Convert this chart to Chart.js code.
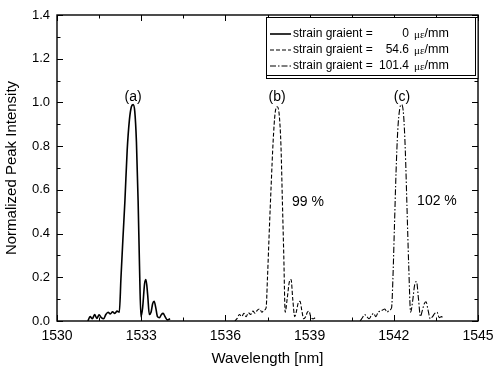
<!DOCTYPE html>
<html>
<head>
<meta charset="utf-8">
<script src="https://cdn.jsdelivr.net/npm/chart.js@4.4.1/dist/chart.umd.min.js"></script>
<style>
  html, body { margin: 0; padding: 0; background: #fff; }
  #wrap { width: 493px; height: 370px; }
</style>
</head>
<body>
<div id="wrap"><canvas id="chart" width="493" height="370"></canvas></div>
<script>
// spectrum (a): strain gradient 0
const wlA = [1531.10, 1531.18, 1531.26, 1531.34, 1531.42, 1531.50, 1531.58, 1531.66, 1531.74, 1531.82,
    1531.90, 1531.98, 1532.06, 1532.14, 1532.22, 1532.28, 1532.35, 1532.42, 1532.50, 1532.58,
    1532.65, 1532.71, 1532.77, 1532.83, 1532.89, 1532.94, 1532.99, 1533.05, 1533.12, 1533.17,
    1533.23, 1533.29, 1533.35, 1533.41, 1533.46, 1533.52, 1533.58, 1533.65, 1533.72, 1533.78,
    1533.85, 1533.93, 1534.03];
const intA = [0.0, 0.02, 0.01, 0.03, 0.012, 0.028, 0.015, 0.01, 0.03, 0.04,
    0.032, 0.042, 0.035, 0.045, 0.04, 0.2, 0.38, 0.55, 0.78, 0.92,
    0.98, 0.99, 0.96, 0.82, 0.55, 0.25, 0.02, 0.06, 0.17, 0.19,
    0.12, 0.03, 0.04, 0.08, 0.09, 0.06, 0.02, 0.015, 0.03, 0.035,
    0.02, 0.005, 0.01];

// spectrum (b): strain gradient 54.6
const wlB = [1536.34, 1536.42, 1536.50, 1536.58, 1536.66, 1536.74, 1536.82, 1536.90, 1536.98, 1537.06,
    1537.14, 1537.22, 1537.30, 1537.38, 1537.45, 1537.50, 1537.56, 1537.63, 1537.70, 1537.77,
    1537.85, 1537.92, 1537.98, 1538.03, 1538.08, 1538.13, 1538.20, 1538.28, 1538.34, 1538.40,
    1538.47, 1538.54, 1538.60, 1538.66, 1538.72, 1538.79, 1538.86, 1538.92, 1538.98, 1539.04,
    1539.12, 1539.20];
const intB = [0.0, 0.012, 0.03, 0.02, 0.035, 0.02, 0.038, 0.03, 0.045, 0.035,
    0.05, 0.055, 0.04, 0.05, 0.06, 0.2, 0.4, 0.62, 0.82, 0.95,
    0.98, 0.94, 0.8, 0.55, 0.3, 0.04, 0.1, 0.18, 0.19, 0.1,
    0.02, 0.05, 0.085, 0.09, 0.05, 0.01, 0.02, 0.04, 0.045, 0.02,
    0.01, 0.015];

// spectrum (c): strain gradient 101.4
const wlC = [1540.80, 1540.88, 1540.96, 1541.04, 1541.12, 1541.20, 1541.28, 1541.36, 1541.44, 1541.52,
    1541.60, 1541.68, 1541.76, 1541.84, 1541.92, 1541.97, 1542.02, 1542.08, 1542.14, 1542.21,
    1542.28, 1542.35, 1542.41, 1542.47, 1542.53, 1542.60, 1542.67, 1542.75, 1542.81, 1542.88,
    1542.95, 1543.02, 1543.09, 1543.15, 1543.22, 1543.30, 1543.38, 1543.46, 1543.54, 1543.62,
    1543.70, 1543.77];
const intC = [0.0, 0.015, 0.03, 0.02, 0.01, 0.025, 0.035, 0.02, 0.04, 0.045,
    0.05, 0.055, 0.04, 0.05, 0.06, 0.2, 0.42, 0.68, 0.87, 0.97,
    0.99, 0.94, 0.78, 0.52, 0.26, 0.04, 0.09, 0.17, 0.18, 0.1,
    0.02, 0.05, 0.08, 0.088, 0.05, 0.01, 0.02, 0.035, 0.04, 0.015,
    0.02, 0.01];

const legendValues = ['0', '54.6', '101.4'];
const noteTexts = ['(a)', '(b)', '(c)', '99 %', '102 %'];
const noteX = [1532.71, 1537.84, 1542.29, 1538.37, 1542.83];
const noteY = [1.025, 1.025, 1.025, 0.545, 0.55];

const dashes = [[], [4, 2], [6, 2, 1.5, 2]];
const widths = [1.6, 1.1, 1.1];

function pts(xs, ys) {
    return xs.map((x, i) => ({ x: x, y: ys[i] }));
}

// frame, inward ticks, legend box and peak notes
const decorPlugin = {
    id: 'decor',
    afterDraw(chart) {
        const ctx = chart.ctx;
        const a = chart.chartArea;
        const xs = chart.scales.x;
        const ys = chart.scales.y;
        ctx.save();
        ctx.strokeStyle = '#000';
        ctx.lineWidth = 1.4;
        ctx.strokeRect(a.left, a.top, a.right - a.left, a.bottom - a.top);

        ctx.lineWidth = 1;
        ctx.beginPath();
        for (let v = 1530; v <= 1545.01; v += 1.5) {
            const px = Math.round(xs.getPixelForValue(v)) + 0.5;
            const len = (Math.abs((v - 1530) % 3) < 0.01) ? 6 : 3.5;
            ctx.moveTo(px, a.bottom); ctx.lineTo(px, a.bottom - len);
            ctx.moveTo(px, a.top); ctx.lineTo(px, a.top + len);
        }
        for (let i = 0; i <= 14; i++) {
            const py = Math.round(ys.getPixelForValue(i / 10)) + 0.5;
            const len = (i % 2 === 0) ? 6 : 3.5;
            ctx.moveTo(a.left, py); ctx.lineTo(a.left + len, py);
            ctx.moveTo(a.right, py); ctx.lineTo(a.right - len, py);
        }
        ctx.stroke();

        // legend
        const bx = a.right - 212, by = a.top + 2, bw = 212, bh = 61;
        ctx.fillStyle = '#fff';
        ctx.fillRect(bx, by, bw, bh);
        ctx.lineWidth = 1;
        ctx.strokeRect(bx + 0.5, by + 0.5, bw - 3, bh - 3);
        ctx.strokeRect(bx + 0.5, by + 0.5, bw - 0.5, bh);
        const rows = [by + 17, by + 33, by + 49];
        chart.data.datasets.forEach((ds, i) => {
            ctx.setLineDash(dashes[i]);
            ctx.lineWidth = widths[i];
            ctx.beginPath();
            ctx.moveTo(bx + 4, rows[i]);
            ctx.lineTo(bx + 25, rows[i]);
            ctx.stroke();
            ctx.setLineDash([]);
            ctx.fillStyle = '#000';
            ctx.textBaseline = 'middle';
            ctx.font = '12px "Liberation Sans", Arial, sans-serif';
            ctx.textAlign = 'left';
            ctx.fillText('strain graient =', bx + 27, rows[i]);
            ctx.textAlign = 'right';
            ctx.fillText(legendValues[i], bx + 143, rows[i]);
            ctx.textAlign = 'left';
            ctx.font = '11px "Liberation Serif", "Times New Roman", serif';
            ctx.fillText('\u03bc\u03b5', bx + 148, rows[i] + 1);
            const w = ctx.measureText('\u03bc\u03b5').width;
            ctx.font = '12.5px "Liberation Sans", Arial, sans-serif';
            ctx.fillText('/mm', bx + 148 + w, rows[i]);
        });

        // peak notes
        ctx.font = '14px "Liberation Sans", Arial, sans-serif';
        ctx.fillStyle = '#000';
        ctx.textBaseline = 'middle';
        noteTexts.forEach((t, i) => {
            ctx.textAlign = i < 3 ? 'center' : 'left';
            ctx.fillText(t, xs.getPixelForValue(noteX[i]), ys.getPixelForValue(noteY[i]));
        });
        ctx.restore();
    }
};

new Chart(document.getElementById('chart').getContext('2d'), {
    type: 'line',
    data: {
        datasets: [
            { data: pts(wlA, intA), borderColor: '#000', borderWidth: widths[0], borderDash: dashes[0] },
            { data: pts(wlB, intB), borderColor: '#000', borderWidth: widths[1], borderDash: dashes[1] },
            { data: pts(wlC, intC), borderColor: '#000', borderWidth: widths[2], borderDash: dashes[2] }
        ]
    },
    options: {
        responsive: false,
        animation: false,
        layout: { padding: { top: 15, right: 15, left: 0, bottom: 0 } },
        elements: {
            point: { radius: 0 },
            line: { cubicInterpolationMode: 'monotone', fill: false }
        },
        plugins: {
            legend: { display: false },
            tooltip: { enabled: false }
        },
        scales: {
            x: {
                type: 'linear',
                min: 1530,
                max: 1545,
                grid: { display: false, drawTicks: false },
                border: { display: false },
                ticks: {
                    stepSize: 3,
                    padding: 7,
                    maxRotation: 0,
                    color: '#000',
                    font: { family: '"Liberation Sans", Arial, sans-serif', size: 14 },
                    callback: function (v) { return String(v); }
                },
                title: {
                    display: true,
                    text: 'Wavelength [nm]',
                    color: '#000',
                    padding: { top: 0, bottom: 2 },
                    font: { family: '"Liberation Sans", Arial, sans-serif', size: 15 }
                },
                afterFit: function (s) {
                    s.height = 49;
                    s.paddingLeft = 0;
                    s.paddingRight = 0;
                }
            },
            y: {
                min: 0,
                max: 1.4,
                grid: { display: false, drawTicks: false },
                border: { display: false },
                ticks: {
                    stepSize: 0.2,
                    padding: 7,
                    color: '#000',
                    font: { family: '"Liberation Sans", Arial, sans-serif', size: 13 },
                    callback: function (v) { return v.toFixed(1); }
                },
                title: {
                    display: true,
                    text: 'Normalized Peak Intensity',
                    color: '#000',
                    padding: { top: 3, bottom: 0 },
                    font: { family: '"Liberation Sans", Arial, sans-serif', size: 15 }
                },
                afterFit: function (s) {
                    s.width = 57;
                    s.paddingTop = 0;
                    s.paddingBottom = 0;
                }
            }
        }
    },
    plugins: [decorPlugin]
});
</script>
</body>
</html>
